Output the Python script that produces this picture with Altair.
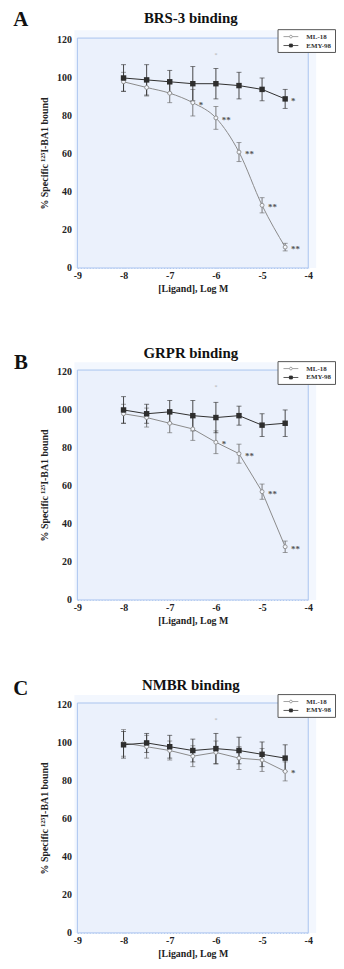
import altair as alt
import pandas as pd

# ---------------- data ----------------
x_vals = [-8, -7.5, -7, -6.5, -6, -5.5, -5, -4.5]
series_names = ["ML-18", "EMY-98"]
panel_letters = ["A", "B", "C"]
panel_titles = ["BRS-3 binding", "GRPR binding", "NMBR binding"]

ml_A = [98, 95, 92, 87, 79, 61, 33, 11]
ml_A_err = [5, 4.5, 5, 7, 6, 5, 4, 2]
emy_A = [100, 99, 98, 97, 97, 96, 94, 89]
emy_A_err = [7, 8, 6, 9, 8, 7, 6, 5]
ml_A_stars = ["", "", "", "*", "**", "**", "**", "**"]
emy_A_stars = ["", "", "", "", "", "", "", "*"]

ml_B = [98, 96, 93, 90, 83, 77, 57, 28]
ml_B_err = [5, 5, 5, 6, 6, 5, 4, 3]
emy_B = [100, 98, 99, 97, 96, 97, 92, 93]
emy_B_err = [7, 5, 6, 8, 8, 5, 6, 7]
ml_B_stars = ["", "", "", "", "*", "**", "**", "**"]
emy_B_stars = ["", "", "", "", "", "", "", ""]

ml_C = [100, 98, 96, 93, 95, 92, 91, 85]
ml_C_err = [7, 6, 5, 5.5, 6, 6, 6, 5]
emy_C = [99, 100, 98, 96, 97, 96, 94, 92]
emy_C_err = [7, 5, 6, 6, 8, 7, 6.5, 7]
ml_C_stars = ["", "", "", "", "", "", "", "*"]
emy_C_stars = ["", "", "", "", "", "", "", ""]

# faint stray asterisk visible above -6 in every panel
stray_x = [-6]
stray_y = [112]

x_ticks = [-9, -8, -7, -6, -5, -4]
y_ticks = [0, 20, 40, 60, 80, 100, 120]

# ---------------- style ----------------
W, H = 233, 232
FONT = "Liberation Serif"
ML_COLOR = "#8a8a8a"
EMY_COLOR = "#2e2e2e"
PLOT_BG = "#ebf1fc"
OUTER_BG = "#f3f7fe"
FRAME = "#a9c3ef"

ML_PATH = "M-2,0H-0.38M0.38,0H2M-0.38,0A0.38,0.38,0,1,1,0.38,0A0.38,0.38,0,1,1,-0.38,0Z"
EMY_PATH = "M-2,0H2M-0.4,-0.4H0.4V0.4H-0.4Z"

xs = alt.Scale(domain=[-9, -4], nice=False, zero=False)
ys = alt.Scale(domain=[0, 121], nice=False)

x_axis = alt.Axis(values=x_ticks, title="[Ligand], Log M", labelExpr="datum.value + ''",
                  labelFlush=False, labelPadding=3, titlePadding=3)
y_axis = alt.Axis(values=y_ticks, title="% Specific \u00b9\u00b2\u2075I-BA1 bound",
                  labelPadding=6, titlePadding=7)


def make_df(ml, ml_err, emy, emy_err, ml_st, emy_st):
    rows = []
    for name, ys_, es, st in [("ML-18", ml, ml_err, ml_st), ("EMY-98", emy, emy_err, emy_st)]:
        for xv, yv, ev, s in zip(x_vals, ys_, es, st):
            rows.append({"series": name, "x": xv, "y": yv, "lo": yv - ev, "hi": yv + ev, "star": s})
    return pd.DataFrame(rows)


def panel(df, letter, title, letter_y, title_y, ml_interp):
    base = alt.Chart(df)
    X = alt.X("x:Q", scale=xs, axis=x_axis)
    Y = alt.Y("y:Q", scale=ys, axis=y_axis)
    one = alt.Chart(pd.DataFrame({"k": [0]}))

    outer = one.mark_rect(fill=OUTER_BG).encode(
        x=alt.value(-3), x2=alt.value(W + 8), y=alt.value(-8), y2=alt.value(H))
    inner = one.mark_rect(fill=PLOT_BG, stroke=FRAME, strokeWidth=1).encode(
        x=alt.value(0), x2=alt.value(W), y=alt.value(0), y2=alt.value(H))

    ml = base.transform_filter(alt.datum.series == "ML-18")
    emy = base.transform_filter(alt.datum.series == "EMY-98")

    ml_line = ml.mark_line(color=ML_COLOR, strokeWidth=1, interpolate=ml_interp).encode(x=X, y=Y)
    emy_line = emy.mark_line(color=EMY_COLOR, strokeWidth=1).encode(x=X, y=Y)

    ml_err = ml.mark_errorbar(ticks=True, size=5, thickness=0.9, color="#6a6a6a").encode(
        x=X, y=alt.Y("lo:Q", scale=ys, axis=y_axis), y2="hi:Q")
    emy_err = emy.mark_errorbar(ticks=True, size=5, thickness=0.9, color="#333333").encode(
        x=X, y=alt.Y("lo:Q", scale=ys, axis=y_axis), y2="hi:Q")

    ml_pts = ml.mark_point(shape="circle", size=16, filled=True, fill="#f4f7fd",
                           stroke=ML_COLOR, strokeWidth=0.9, opacity=1).encode(x=X, y=Y)
    emy_pts = emy.mark_point(shape="square", size=30, filled=True, color=EMY_COLOR,
                             opacity=1).encode(x=X, y=Y)

    stars = base.transform_filter(alt.datum.star != "").mark_text(
        align="left", baseline="middle", dx=6, dy=2, font=FONT, fontSize=9,
        fontWeight="bold", color="#555555").encode(x=X, y=Y, text="star:N")

    stray = alt.Chart(pd.DataFrame({"x": stray_x, "y": stray_y})).mark_text(
        text="*", fontSize=6, color="#b0b0b0", font=FONT).encode(x=X, y=Y)

    letter_mark = one.mark_text(text=letter, font=FONT, fontSize=21, fontWeight="bold",
                                color="#111111", align="center", baseline="middle").encode(
        x=alt.value(-57), y=alt.value(letter_y))
    title_mark = one.mark_text(text=title, font=FONT, fontSize=15, fontWeight="bold",
                               color="#111111", align="center", baseline="middle").encode(
        x=alt.value(W / 2 - 2), y=alt.value(title_y))

    leg = alt.Legend(orient="none", legendX=202, legendY=-9, title=None,
                     symbolSize=56, symbolStrokeWidth=0.8, symbolOffset=6, labelOffset=11,
                     labelFont=FONT, labelFontSize=7, labelFontWeight="bold", labelColor="#333333",
                     strokeColor="#555555", fillColor="#ffffff", padding=3, rowPadding=1,
                     symbolOpacity=1)
    legend_layer = base.mark_point(opacity=0, filled=True).encode(
        x=X, y=Y,
        shape=alt.Shape("series:N", scale=alt.Scale(domain=series_names, range=[ML_PATH, EMY_PATH]), legend=leg),
        fill=alt.Fill("series:N", scale=alt.Scale(domain=series_names, range=["#ffffff", EMY_COLOR]), legend=leg),
        stroke=alt.Stroke("series:N", scale=alt.Scale(domain=series_names, range=[ML_COLOR, EMY_COLOR]), legend=leg),
    )

    return alt.layer(outer, inner, ml_line, emy_line, ml_err, emy_err, ml_pts, emy_pts,
                     stars, stray, letter_mark, title_mark, legend_layer).properties(
        width=W, height=H)


dfA = make_df(ml_A, ml_A_err, emy_A, emy_A_err, ml_A_stars, emy_A_stars)
dfB = make_df(ml_B, ml_B_err, emy_B, emy_B_err, ml_B_stars, emy_B_stars)
dfC = make_df(ml_C, ml_C_err, emy_C, emy_C_err, ml_C_stars, emy_C_stars)

pA = panel(dfA, panel_letters[0], panel_titles[0], -18, -20, "monotone")
pB = panel(dfB, panel_letters[1], panel_titles[1], -7, -17, "linear")
pC = panel(dfC, panel_letters[2], panel_titles[2], -14, -18, "linear")

chart = alt.vconcat(pA, pB, pC, spacing=53).resolve_scale(
    shape="independent", fill="independent", stroke="independent"
).resolve_legend(
    shape="independent", fill="independent", stroke="independent"
).properties(
    padding={"left": 5, "top": -3, "right": 0, "bottom": 0}
).configure_view(
    stroke=None
).configure_axis(
    labelFont=FONT, labelFontWeight="bold", labelFontSize=10, labelColor="#222222",
    titleFont=FONT, titleFontWeight="bold", titleFontSize=10, titleColor="#222222",
    domain=False, ticks=False, grid=True, gridColor="#9dbaec", gridDash=[1, 2], gridWidth=0.8,
)

chart.save("out.html", embed_options={"renderer": "svg", "actions": False})
